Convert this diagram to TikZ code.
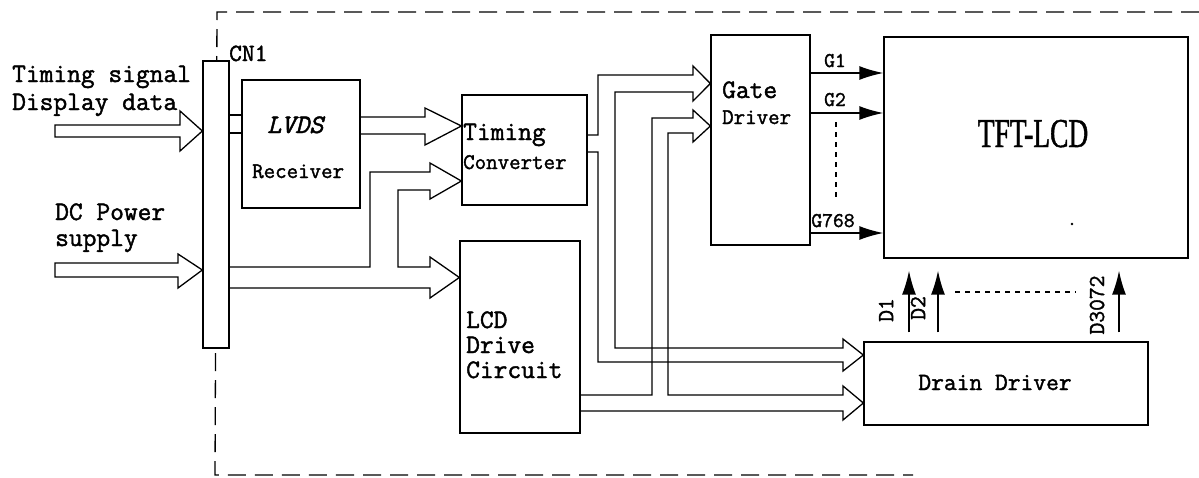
\documentclass[tikz,border=0pt]{standalone}
\usepackage{fontspec}
\newfontfamily\scanmono[FakeBold=1.6]{Latin Modern Mono}
\newfontfamily\scanserif[FakeStretch=0.67,FakeBold=1]{Liberation Serif}
\usetikzlibrary{arrows.meta}
\tikzset{
 box/.style={draw, line width=1.3pt, inner sep=0pt, fill=white},
 bus/.style={line width=1.3pt, line join=miter},
 sig/.style={line width=1.5pt, -{Latex[length=24pt,width=14pt]}},
 dots/.style={line width=2.2pt, dash pattern=on 5pt off 5pt},
 frame/.style={line width=1.3pt, dash pattern=on 18pt off 9pt},
 lbl/.style={inner sep=0pt, anchor=base west, align=left, font=\scanmono\fontsize{26.7}{28}\selectfont},
 lblm/.style={lbl, font=\scanmono\fontsize{22.3}{24}\selectfont},
 lbls/.style={inner sep=0pt, anchor=base, font=\scanmono\fontsize{21}{21}\selectfont},
}
\begin{document}
\begin{tikzpicture}[x=1pt,y=-1pt]
\useasboundingbox (0,0) rectangle (1199,477);
% dashed frame
\draw[frame] (1199,12) -- (217,12) -- (215,475) -- (913,475);
% boxes
\node[box, minimum width=26pt, minimum height=287pt] (cn1) at (216,204.5) {};
\node[box, minimum width=118pt, minimum height=128pt] (lvds) at (301,144) {};
\node[box, minimum width=125pt, minimum height=110pt] (tc) at (524.5,150) {};
\node[box, minimum width=120pt, minimum height=192pt] (lcd) at (520,337) {};
\node[box, minimum width=99pt, minimum height=210pt] (gate) at (760.5,140) {};
\node[box, minimum width=304pt, minimum height=221pt] (tft) at (1036,147.5) {};
\node[box, minimum width=284pt, minimum height=83pt] (drain) at (1006,383.5) {};
% texts
\node[lbl, font=\scanmono\fontsize{26.7}{28}\selectfont] (tsig) at (12,110) {Timing signal\\Display data};
\node[lbl, font=\scanmono\fontsize{26.7}{26}\selectfont] (dcp) at (55,246) {DC Power\\supply};
\node[lbl, font=\scanmono\fontsize{24.8}{25}\selectfont] (cn1lbl) at (229,61) {CN1};
\node[lbl, font=\scanmono\itshape\fontsize{26.7}{28}\selectfont] (lvdst) at (267,133) {LVDS};
\node[lblm] (rect) at (252,178) {Receiver};
\node[lbl] (tct) at (463,140) {Timing};
\node[lblm] (conv) at (463,169) {Converter};
\node[lbl] (gatet) at (722,98) {Gate};
\node[lblm] (gdrv) at (722,124) {Driver};
\node[lbl, font=\scanmono\fontsize{26.7}{25}\selectfont] (lcdt) at (466,378) {LCD\\Drive\\Circuit};
\node[inner sep=0pt, anchor=base, font=\scanserif\fontsize{41}{41}\selectfont] (tftt) at (1033,147) {TFT-LCD};
\node[inner sep=0pt, anchor=base, font=\scanmono\fontsize{24.8}{25}\selectfont] (drt) at (995,390) {Drain Driver};
% input arrows
\coordinate (in1) at (55,131);
\coordinate (in2) at (55,270);
\draw[bus] (in1) ++(0,-6) -- (180,125) -- (180,111) -- (cn1.west |- 0,131) -- (180,151) -- (180,137) -- (55,137) -- cycle;
\draw[bus] (in2) ++(0,-7) -- (178,263) -- (178,254) -- (cn1.west |- 0,270) -- (178,288) -- (178,277) -- (55,277) -- cycle;
% CN1 -> LVDS
\draw[bus] (cn1.east |- 0,115) -- (lvds.west |- 0,115);
\draw[bus] (cn1.east |- 0,133) -- (lvds.west |- 0,133);
% LVDS -> Timing converter
\draw[bus] (lvds.east |- 0,117) -- (425,117) -- (425,108) -- (tc.west |- 0,126) -- (425,145) -- (425,134) -- (lvds.east |- 0,134);
% power bus
\draw[bus] (cn1.east |- 0,267) -- (370,267) -- (370,172) -- (430,172) -- (430,163) -- (tc.west |- 0,181) -- (430,199) -- (430,190) -- (398,190) -- (398,267) -- (430,267) -- (430,257) -- (lcd.west |- 0,277.5) -- (430,298) -- (430,288) -- (cn1.east |- 0,288);
% timing converter bus
\draw[bus] (tc.east |- 0,135) -- (598,135) -- (598,75) -- (693,75) -- (693,66) -- (gate.west |- 0,83.5) -- (693,101) -- (693,92) -- (615,92) -- (615,348) -- (843,348) -- (843,339) -- (drain.west |- 0,355) -- (843,371) -- (843,362) -- (598,362) -- (598,152) -- (tc.east |- 0,152);
% LCD drive bus
\draw[bus] (lcd.east |- 0,395) -- (652,395) -- (652,118) -- (693,118) -- (693,110) -- (gate.west |- 0,126) -- (693,142) -- (693,133) -- (668,133) -- (668,395) -- (843,395) -- (843,386) -- (drain.west |- 0,403) -- (843,420) -- (843,411) -- (lcd.east |- 0,411);
% gate lines
\draw[sig] (gate.east |- 0,73) -- (tft.west |- 0,73);
\draw[sig] (gate.east |- 0,113) -- (tft.west |- 0,113);
\draw[sig] (gate.east |- 0,233) -- (tft.west |- 0,233);
\node[lbls] (g1) at (835,67) {G1};
\node[lbls] (g2) at (835,106) {G2};
\node[lbls] (g768) at (833,227) {G768};
\coordinate (gd1) at (836,122);
\coordinate (gd2) at (836,198);
\draw[dots] (gd1) -- (gd2);
% drain lines
\coordinate (dtop) at ([yshift=9pt]drain.north);
\coordinate (tbot) at ([yshift=-12pt]tft.south);
\draw[sig] (dtop -| 909,0) -- (tbot -| 909,0);
\draw[sig] (dtop -| 938,0) -- (tbot -| 938,0);
\draw[sig] (dtop -| 1119,0) -- (tbot -| 1119,0);
\coordinate (dd1) at (955,292);
\coordinate (dd2) at (1076,292);
\draw[dots] (dd1) -- (dd2);
\node[lbls, font=\scanmono\fontsize{22.9}{23}\selectfont, anchor=center, rotate=90] (d1) at (886,310) {D1};
\node[lbls, font=\scanmono\fontsize{22.9}{23}\selectfont, anchor=center, rotate=90] (d2) at (918,308) {D2};
\node[lbls, font=\scanmono\fontsize{22.9}{23}\selectfont, anchor=center, rotate=90] (d3072) at (1097,305) {D3072};
% stray dot
\fill (1072,224) circle (1.3pt);
\end{tikzpicture}
\end{document}
